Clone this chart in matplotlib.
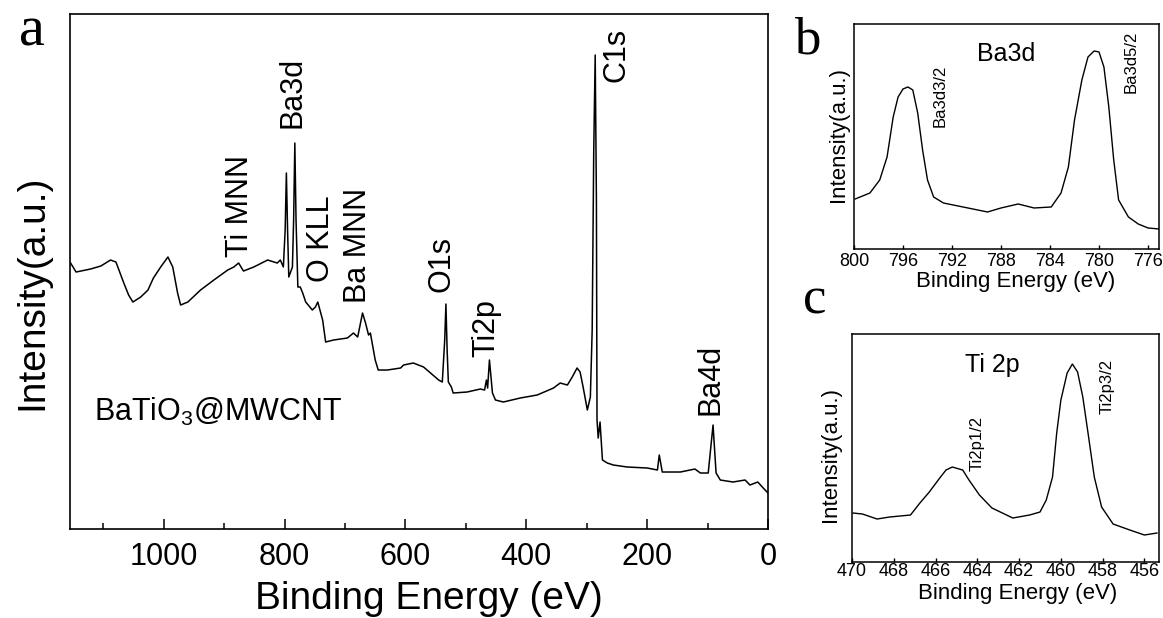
import matplotlib
matplotlib.use("Agg")
import matplotlib.pyplot as plt
from matplotlib.ticker import MultipleLocator

plt.rcParams['font.family'] = ['Liberation Sans', 'DejaVu Sans']
plt.rcParams['mathtext.fontset'] = 'custom'
plt.rcParams['mathtext.rm'] = 'Liberation Sans'

# ---------------- Survey spectrum (panel a) ----------------
survey_energy = [1154, 1145, 1121, 1104, 1088, 1079, 1066, 1058, 1051, 1038, 1026, 1017,
                 1005, 993, 985, 977, 972, 960, 939, 917, 894, 884, 876, 868, 851, 828,
                 812, 807, 802, 799, 797, 795, 793, 787, 785, 783, 781, 778, 774, 770,
                 765, 754, 749, 745, 737, 732, 719, 696, 686, 679, 671, 666, 661, 658,
                 650, 645, 630, 608, 603, 587, 570, 545, 539, 535, 533, 531, 529, 524,
                 521, 498, 476, 469, 466, 464, 461, 456, 451, 438, 410, 382, 355, 344,
                 332, 324, 316, 311, 306, 299, 294, 291, 288.4, 286, 284, 283, 281, 278,
                 274, 266, 256, 233, 200, 183, 180, 175, 145, 121, 112, 99, 91, 86, 79,
                 58, 38, 30, 17, 8, 0]
survey_intensity = [266, 257, 260, 263, 269, 267, 246, 234, 227, 232, 239, 251,
                    262, 272, 262, 236, 224, 227, 239, 249, 259, 262, 266, 258, 262, 269,
                    266, 269, 262, 299, 356, 299, 252, 262, 309, 386, 309, 242, 242, 236,
                    227, 219, 222, 227, 209, 187, 189, 191, 196, 192, 216, 206, 194, 196,
                    169, 159, 159, 161, 164, 166, 162, 149, 147, 189, 225, 179, 147, 142,
                    136, 137, 140, 139, 149, 141, 169, 136, 129, 127, 131, 134, 141, 146,
                    144, 152, 161, 157, 142, 119, 132, 199, 379, 474, 329, 109, 91, 107,
                    69, 66, 64, 62, 61, 59, 74, 57, 57, 60, 56, 56, 104, 56, 49,
                    47, 49, 44, 47, 41, 36]

survey_labels = ["Ti MNN", "Ba3d", "O KLL", "Ba MNN", "O1s", "Ti2p", "C1s", "Ba4d"]
survey_label_x = [873, 787, 739, 678, 540, 466, 251, 96]
survey_label_y = [272, 401, 247, 226, 237, 172, 447, 114]
survey_ticks = [1000, 800, 600, 400, 200, 0]

# ---------------- Ba3d high resolution (panel b) ----------------
ba_energy = [799.9, 798.7, 797.9, 797.3, 796.8, 796.4, 796.0, 795.6, 795.2, 794.8, 794.4,
             794.0, 793.5, 792.7, 791.1, 789.1, 788.0, 786.6, 785.3, 783.9, 783.1, 782.5,
             782.0, 781.4, 780.9, 780.4, 780.0, 779.6, 779.2, 778.8, 778.4, 777.6, 776.8,
             776.0, 775.1]
ba_intensity = [50, 56, 69, 92, 132, 152, 160, 162, 159, 136, 99,
                69, 52, 46, 42, 37, 41, 45, 41, 42, 56, 82,
                129, 169, 192, 198, 197, 182, 142, 89, 49, 32, 25,
                21, 20]
ba_ticks = [800, 796, 792, 788, 784, 780, 776]

# ---------------- Ti 2p high resolution (panel c) ----------------
ti_energy = [469.95, 469.5, 468.8, 468.2, 467.2, 466.75, 466.3, 465.8, 465.5, 465.2, 464.7,
             464.4, 463.9, 463.3, 462.3, 461.5, 461.0, 460.7, 460.4, 460.2, 460.0, 459.7,
             459.45, 459.2, 458.95, 458.7, 458.4, 458.05, 457.5, 456.7, 456.0, 455.4]
ti_intensity = [49, 48, 43, 45, 47, 59, 70, 84, 92, 95, 92,
                82, 67, 54, 44, 47, 50, 62, 85, 129, 162, 189,
                198, 190, 165, 129, 85, 55, 38, 32, 27, 29]
ti_ticks = [470, 468, 466, 464, 462, 460, 458, 456]

fig = plt.figure(figsize=(11.63, 6.18), dpi=100)

# ---- panel a ----
ax = fig.add_axes([0.0602, 0.144, 0.6002, 0.8333])
ax.plot(survey_energy, survey_intensity, color='black', lw=1.1)
ax.set_xlim(1155, 0)
ax.set_ylim(0, 515)
ax.set_yticks([])
ax.set_xticks(survey_ticks)
ax.xaxis.set_minor_locator(MultipleLocator(100))
ax.tick_params(axis='x', which='major', direction='in', length=7, width=1.1,
               labelsize=22, pad=9, top=False)
ax.tick_params(axis='x', which='minor', direction='in', length=4, width=1.1, top=False)
for s in ax.spines.values():
    s.set_linewidth(1.2)
for lab, lx, ly in zip(survey_labels, survey_label_x, survey_label_y):
    ax.text(lx, ly, lab, rotation=90, ha='center', va='bottom', fontsize=22)
ax.text(1116, 108, r"BaTiO$_3$@MWCNT", fontsize=22, ha='left', va='baseline')
fig.text(0.369, 0.031, "Binding Energy (eV)", fontsize=28, ha='center', va='center')
fig.text(0.0275, 0.527, "Intensity(a.u.)", fontsize=28, ha='center', va='center',
         rotation=90)

# ---- panel b ----
axb = fig.add_axes([0.7343, 0.5971, 0.2623, 0.3641])
axb.plot(ba_energy, ba_intensity, color='black', lw=1.0)
axb.set_xlim(800, 775.1)
axb.set_ylim(0, 225)
axb.set_yticks([])
axb.set_xticks(ba_ticks)
axb.tick_params(axis='x', direction='in', length=3, width=1.0, labelsize=13, pad=3)
for s in axb.spines.values():
    s.set_linewidth(1.1)
axb.text(787.6, 195, "Ba3d", fontsize=18, ha='center', va='center')
axb.text(792.95, 153, "Ba3d3/2", fontsize=12, rotation=90, ha='center', va='center')
axb.text(777.4, 187, "Ba3d5/2", fontsize=12, rotation=90, ha='center', va='center')
fig.text(0.8736, 0.545, "Binding Energy (eV)", fontsize=16, ha='center', va='center')
fig.text(0.7214, 0.7816, "Intensity(a.u.)", fontsize=16, ha='center', va='center',
         rotation=90)

# ---- panel c ----
axc = fig.add_axes([0.7326, 0.0906, 0.264, 0.3689])
axc.plot(ti_energy, ti_intensity, color='black', lw=1.0)
axc.set_xlim(470, 455.3)
axc.set_ylim(0, 228)
axc.set_yticks([])
axc.set_xticks(ti_ticks)
axc.tick_params(axis='x', direction='in', length=3, width=1.0, labelsize=13, pad=1)
for s in axc.spines.values():
    s.set_linewidth(1.1)
axc.text(463.3, 197, "Ti 2p", fontsize=18, ha='center', va='center')
axc.text(464.0, 119, "Ti2p1/2", fontsize=12, rotation=90, ha='center', va='center')
axc.text(457.8, 176, "Ti2p3/2", fontsize=12, rotation=90, ha='center', va='center')
fig.text(0.8753, 0.040, "Binding Energy (eV)", fontsize=16, ha='center', va='center')
fig.text(0.7137, 0.2638, "Intensity(a.u.)", fontsize=16, ha='center', va='center',
         rotation=90)

# ---- panel letters ----
fig.text(0.0275, 0.927, "a", fontsize=42, family='Liberation Serif', ha='center', va='baseline')
fig.text(0.694, 0.914, "b", fontsize=38, family='Liberation Serif', ha='center', va='baseline')
fig.text(0.7008, 0.4935, "c", fontsize=38, family='Liberation Serif', ha='center', va='baseline')

fig.savefig("out.png", dpi=100)
